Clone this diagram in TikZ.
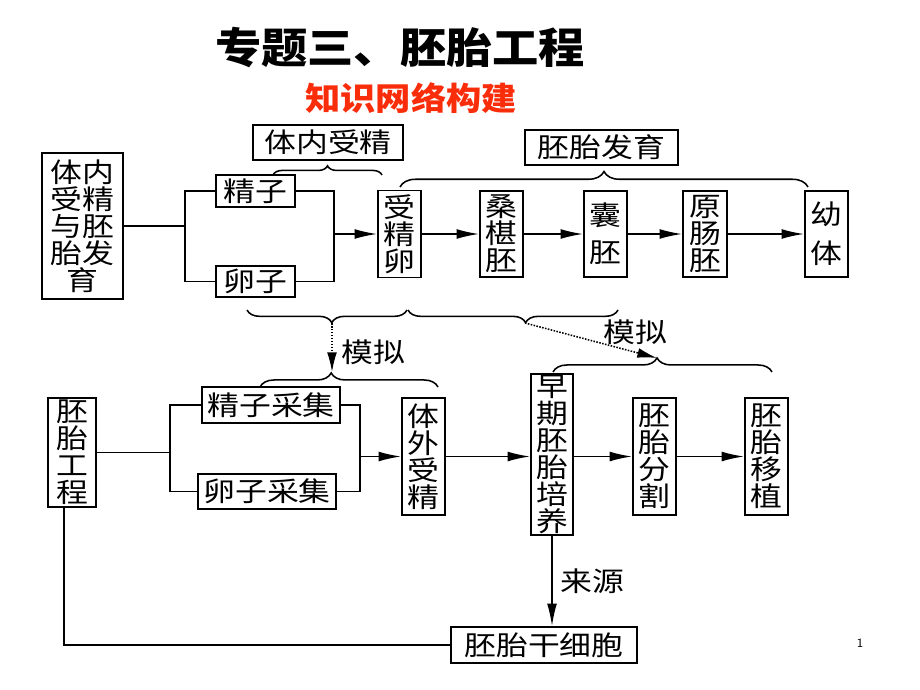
\documentclass[tikz,border=0pt]{standalone}
\usepackage{fontspec}
\newfontfamily\boxfont[FakeStretch=1.18]{Noto Sans CJK SC}
\newfontfamily\titlefont[FakeStretch=1.1]{Noto Sans CJK SC}
\usetikzlibrary{arrows.meta,decorations.pathreplacing}
\definecolor{subred}{RGB}{250,45,10}

\begin{document}
\begin{tikzpicture}[x=0.025cm, y=-0.025cm,
        box/.style={draw=black, line width=1.3pt, inner sep=0pt, align=center,
                    font=\boxfont\fontsize{19.2}{19.2}\selectfont},
        sz/.style 2 args={minimum width=#1*0.025cm, minimum height=#2*0.025cm},
        link/.style={line width=1.1pt},
        arr/.style={line width=1.1pt, -{Latex[length=16pt,width=7pt]}},
        dotarr/.style={line width=1.1pt, densely dotted, -{Latex[length=14pt,width=7pt]}},
        brc/.style={line width=1.1pt, decorate, decoration={brace, amplitude=#1}},
        brc/.default=10pt,
        lbl/.style={font=\boxfont\fontsize{19.2}{19.2}\selectfont}]
    \useasboundingbox (0,0) rectangle (920,690);

    \node [font=\titlefont\bfseries\fontsize{29.9}{30}\selectfont] (title) at (400,48) {专题三、胚胎工程};
    \node [font=\titlefont\bfseries\fontsize{22.8}{23}\selectfont, text=subred] (subtitle) at (411,98) {知识网络构建};

    % upper row
    \node [box, sz={81}{146}] at (82.5,226) (tjss) {体内\\受精\\与胚\\胎发\\育};
    \node [box, sz={79}{32}] at (255.5,191) (jz) {精子};
    \node [box, sz={79}{31}] at (255.5,281.5) (lz) {卵子};
    \node [box, sz={150}{35}] at (328,142.5) (tnsj) {体内受精};
    \node [box, sz={43}{87}] at (399.5,234) (sjl) {受\\精\\卵};
    \node [box, sz={43}{86}] at (501.5,234) (sqp) {桑\\椹\\胚};
    \node [box, sz={43}{86}] at (605.5,234) (np) {囊\\[0.25cm]胚};
    \node [box, sz={44}{86}] at (705,234) (ycp) {原\\肠\\胚};
    \node [box, sz={43}{86}] at (826.5,234) (yt) {幼\\[0.3cm]体};
    \node [box, sz={153}{35}] at (601.5,147.5) (pfy) {胚胎发育};

    \draw [link] (tjss.east) -- ++(61,0) coordinate (fork1);
    \draw [link] (jz.west) -| (fork1) |- (lz.west);
    \coordinate (join1) at (334,234);
    \draw [link] (jz.east) -| (join1) |- (lz.east);
    \draw [arr] (join1) -- (sjl);
    \draw [arr] (sjl) -- (sqp);
    \draw [arr] (sqp) -- (np);
    \draw [arr] (np) -- (ycp);
    \draw [arr] (ycp) -- (yt);

    \draw [brc=6.5pt] (273,175) -- (382,175);
    \draw [brc=11pt] (400,187) -- (808,187);

    % braces between the rows
    \draw [brc=9pt, decoration={aspect=0.47}] (407,310) -- (247,310);
    \draw [brc=9pt, decoration={aspect=0.44}] (618,310) -- (408,310);
    \draw [brc, decoration={aspect=0.40}] (260,387) -- (438,387);
    \draw [brc, decoration={aspect=0.475}] (553,372) -- (772,372);
    \coordinate (tipA) at (332,323);
    \coordinate (tipB) at (525,323);
    \coordinate (tipC) at (332,372);
    \coordinate (tipD) at (657,358);
    \draw [dotarr] (tipA) -- (tipC);
    \draw [dotarr] (tipB) -- (tipD);
    \node [lbl] at (373,352) (mn1) {模拟};
    \node [lbl] at (635,332) (mn2) {模拟};

    % lower row
    \node [box, sz={48}{109}] at (72,452.5) (gpgc) {胚\\胎\\工\\程};
    \node [box, sz={138}{36}] at (271,405) (jzcj) {精子采集};
    \node [box, sz={138}{35}] at (267,491.5) (lzcj) {卵子采集};
    \node [box, sz={43}{117}] at (423.5,456.5) (twsj) {体\\外\\受\\精};
    \node [box, sz={42}{161}] at (552,454.5) (zqpp) {早\\期\\胚\\胎\\培\\养};
    \node [box, sz={43}{117}] at (654.5,456.5) (pfg) {胚\\胎\\分\\割};
    \node [box, sz={43}{117}] at (766.5,456.5) (pyz) {胚\\胎\\移\\植};
    \node [box, sz={186}{36}] at (544,645) (gxb) {胚胎干细胞};

    \draw [link] (gpgc.east) -- ++(73,0) coordinate (fork2);
    \draw [link] (jzcj.west) -| (fork2) |- (lzcj.west);
    \coordinate (join2) at (360,456.5);
    \draw [link] (jzcj.east) -| (join2) |- (lzcj.east);
    \draw [arr] (join2) -- (twsj);
    \draw [arr] (twsj) -- (zqpp.west |- twsj);
    \draw [arr] (zqpp.east |- pfg) -- (pfg);
    \draw [arr] (pfg) -- (pyz);
    \draw [arr] (zqpp.south) -- (zqpp.south |- gxb.north) node [lbl, midway, right=2pt] (ly) {来源};
    \draw [link] ([xshift=-0.2cm]gpgc.south) |- (gxb.west);

    \node [font=\sffamily\fontsize{9}{9}\selectfont] at (860,643) (pageno) {1};
\end{tikzpicture}
\end{document}
